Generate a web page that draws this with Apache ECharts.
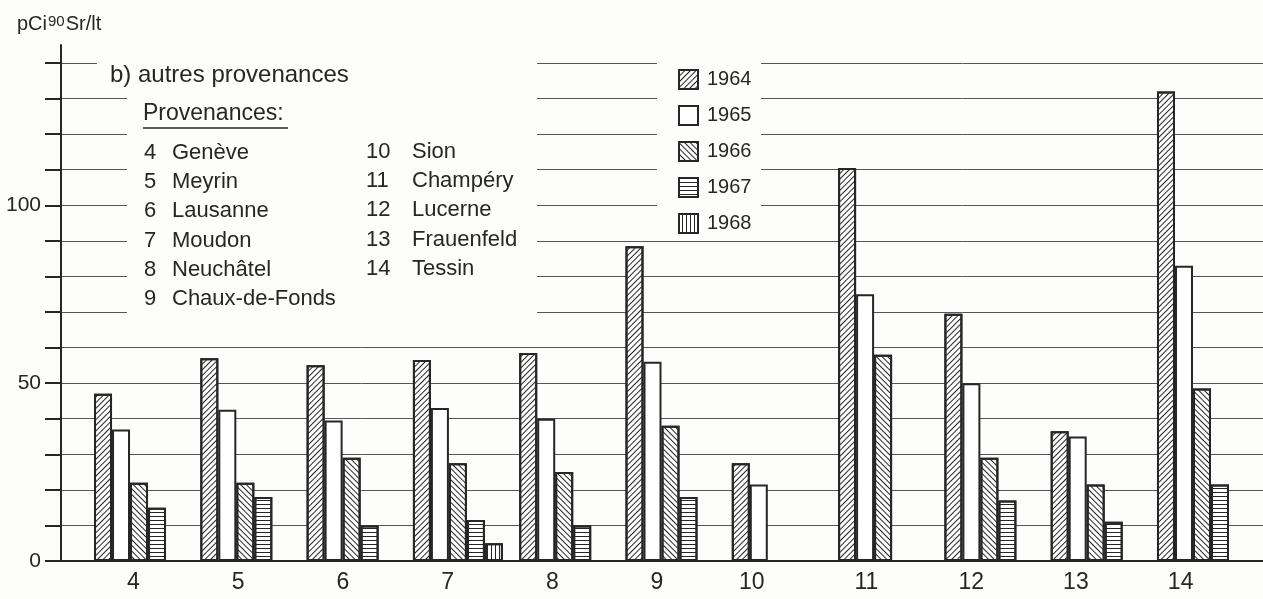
<!DOCTYPE html>
<html>
<head>
<meta charset="utf-8">
<script src="https://cdn.jsdelivr.net/npm/echarts@6/dist/echarts.min.js"></script>
<style>
  html, body { margin: 0; padding: 0; background: #fdfdfc; }
  #chart { width: 1263px; height: 599px; }
</style>
</head>
<body>
<div id="chart"></div>
<script>
// provenance numbers on the x axis
const categories = ['4', '5', '6', '7', '8', '9', '10', '11', '12', '13', '14']
const years = ['1964', '1965', '1966', '1967', '1968']

// pCi 90Sr / lt (null = no bar)
const v1964 = [47, 57, 55, 56.5, 58.5, 88.5, 27.5, 110.5, 69.5, 36.5, 132]
const v1965 = [37, 42.5, 39.5, 43, 40, 56, 21.5, 75, 50, 35, 83]
const v1966 = [22, 22, 29, 27.5, 25, 38, null, 58, 29, 21.5, 48.5]
const v1967 = [15, 18, 10, 11.5, 10, 18, null, null, 17, 11, 21.5]
const v1968 = [null, null, null, 5, null, null, null, null, null, null, null]

const yTicks = [0, 50, 100]

const leftNums = ['4', '5', '6', '7', '8', '9']
const leftNames = ['Genève', 'Meyrin', 'Lausanne', 'Moudon', 'Neuchâtel', 'Chaux-de-Fonds']
const rightNums = ['10', '11', '12', '13', '14']
const rightNames = ['Sion', 'Champéry', 'Lucerne', 'Frauenfeld', 'Tessin']

const FONT = "'Liberation Sans', Arial, sans-serif"
const INK = '#262626'
const BG = '#fdfdfc'

const values = [v1964, v1965, v1966, v1967, v1968]

// hatch patterns per year
const decals = [
  { symbol: 'rect', symbolSize: 1, color: INK, dashArrayX: [1, 0], dashArrayY: [1, 3], rotation: -Math.PI / 4 },
  null,
  { symbol: 'rect', symbolSize: 1, color: INK, dashArrayX: [1, 0], dashArrayY: [1, 3], rotation: Math.PI / 4 },
  { symbol: 'rect', symbolSize: 1, color: INK, dashArrayX: [1, 0], dashArrayY: [1, 3], rotation: 0 },
  { symbol: 'rect', symbolSize: 1, color: INK, dashArrayX: [1, 0], dashArrayY: [1, 3], rotation: Math.PI / 2 },
]

const series = years.map((y, i) => ({
  name: y,
  type: 'bar',
  xAxisIndex: 0,
  yAxisIndex: 0,
  barWidth: 18,
  barGap: '0%',
  z: 3,
  data: categories
    .map((c, k) => [Number(c), values[i][k]])
    .filter((d) => d[1] != null),
  itemStyle: {
    color: '#ffffff',
    borderColor: INK,
    borderWidth: 2,
    decal: decals[i] || undefined,
  },
}))

// text block and masks that break the grid lines behind the texts
const graphic = [
  { type: 'rect', z: 1, shape: { x: 97, y: 55, width: 440, height: 20 }, style: { fill: BG } },
  { type: 'rect', z: 1, shape: { x: 127, y: 75, width: 410, height: 250 }, style: { fill: BG } },
  { type: 'rect', z: 1, shape: { x: 657, y: 55, width: 104, height: 170 }, style: { fill: BG } },
  {
    type: 'text', z: 5, left: 110, top: 63,
    style: { text: 'b) autres provenances', font: '24px ' + FONT, fill: INK },
  },
  {
    type: 'text', z: 5, left: 143, top: 102,
    style: { text: 'Provenances:', font: '23px ' + FONT, fill: INK },
  },
  {
    type: 'line', z: 5,
    shape: { x1: 143, y1: 128, x2: 288, y2: 128 },
    style: { stroke: INK, lineWidth: 1.5 },
  },
]
leftNums.forEach((n, i) => {
  graphic.push({ type: 'text', z: 5, left: 144, top: 142 + i * 29.2, style: { text: n, font: '22px ' + FONT, fill: INK } })
  graphic.push({ type: 'text', z: 5, left: 172, top: 142 + i * 29.2, style: { text: leftNames[i], font: '22px ' + FONT, fill: INK } })
})
rightNums.forEach((n, i) => {
  graphic.push({ type: 'text', z: 5, left: 366, top: 141 + i * 29.2, style: { text: n, font: '22px ' + FONT, fill: INK } })
  graphic.push({ type: 'text', z: 5, left: 412, top: 141 + i * 29.2, style: { text: rightNames[i], font: '22px ' + FONT, fill: INK } })
})

const chart = echarts.init(document.getElementById('chart'))

chart.setOption({
  backgroundColor: BG,
  animation: false,
  title: {
    left: 12,
    top: 9,
    text: '{a|pCi}{b|90}{a|Sr/lt}',
    textStyle: {
      rich: {
        a: { fontFamily: FONT, fontSize: 20, color: INK, fontWeight: 'normal' },
        b: { fontFamily: FONT, fontSize: 15, color: INK, verticalAlign: 'top', padding: [0, 1, 6, 1], fontWeight: 'normal' },
      },
    },
  },
  legend: {
    orient: 'vertical',
    left: 673,
    top: 64,
    itemWidth: 19,
    itemHeight: 19,
    itemGap: 15,
    icon: 'rect',
    data: years,
    textStyle: { fontFamily: FONT, fontSize: 20, color: INK, padding: [0, 0, 0, 4] },
  },
  grid: [
    { left: 61, right: 0, top: 63, bottom: 38 },
    { left: 81, right: 30, top: 63, bottom: 38 },
    { left: 61, right: 0, top: 45, bottom: 38 },
  ],
  xAxis: [
    {
      type: 'value',
      gridIndex: 0,
      min: 3.266,
      max: 14.574,
      axisLine: { show: true, onZero: false, lineStyle: { color: INK, width: 2 } },
      axisTick: { show: false },
      axisLabel: { show: false },
      splitLine: { show: false },
    },
    {
      type: 'category',
      gridIndex: 1,
      data: categories,
      axisLine: { show: false },
      axisTick: { show: false },
      axisLabel: {
        fontFamily: FONT,
        fontSize: 23,
        color: INK,
        margin: 10,
        formatter: (v) => (v === '10' ? '{s|' + v + '}' : v),
        rich: { s: { fontFamily: FONT, fontSize: 23, color: INK, padding: [0, 20, 0, 0] } },
      },
    },
    {
      type: 'value',
      gridIndex: 2,
      show: false,
    },
  ],
  yAxis: [
    {
      type: 'value',
      gridIndex: 0,
      min: 0,
      max: 140,
      interval: 10,
      axisLine: { show: true, onZero: false, lineStyle: { color: INK, width: 2 } },
      axisTick: { show: true, length: 16, lineStyle: { color: INK, width: 2 } },
      axisLabel: {
        fontFamily: FONT,
        fontSize: 21,
        color: INK,
        margin: 20,
        formatter: (v) => (yTicks.includes(v) ? String(v) : ''),
      },
      splitLine: { show: true, lineStyle: { color: '#555555', width: 1 } },
    },
    { type: 'value', gridIndex: 1, show: false },
    {
      type: 'value',
      gridIndex: 2,
      min: 0,
      max: 1,
      axisLine: { show: true, onZero: false, lineStyle: { color: INK, width: 2 } },
      axisTick: { show: false },
      axisLabel: { show: false },
      splitLine: { show: false },
    },
  ],
  graphic: graphic,
  series: series,
})
</script>
</body>
</html>
